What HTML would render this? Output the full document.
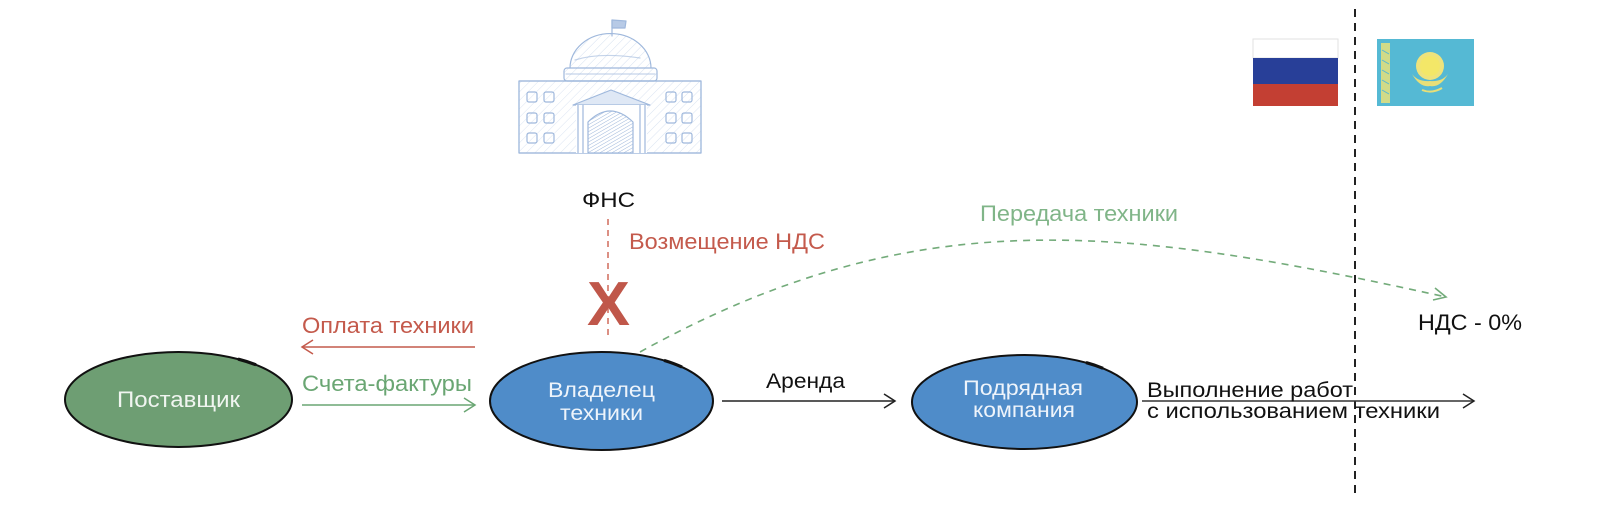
<!DOCTYPE html>
<html>
<head>
<meta charset="utf-8">
<style>
  html,body{margin:0;padding:0;background:#fff;}
  svg{display:block;}
  text{font-family:"Liberation Sans","DejaVu Sans",sans-serif;}
</style>
</head>
<body>
<svg width="1600" height="515" viewBox="0 0 1600 515" xmlns="http://www.w3.org/2000/svg">
  <defs>
    <pattern id="hatch" width="6" height="6" patternUnits="userSpaceOnUse" patternTransform="rotate(45)">
      <line x1="0" y1="0" x2="0" y2="6" stroke="#a9c0e0" stroke-width="1" opacity="0.5"/>
    </pattern>
    <pattern id="hatch2" width="3" height="3" patternUnits="userSpaceOnUse" patternTransform="rotate(60)">
      <line x1="0" y1="0" x2="0" y2="3" stroke="#9db6da" stroke-width="1"/>
    </pattern>
  </defs>
  <rect width="1600" height="515" fill="#fff"/>

  <!-- Building (ФНС) -->
  <g stroke="#9fb8dc" stroke-width="1.2" fill="none" stroke-linecap="round" stroke-linejoin="round">
    <line x1="612" y1="36" x2="612" y2="20"/>
    <path d="M612,20 L626,21 L625,28 L612,28 Z" fill="#b7cae6"/>
    <path d="M570,68 A40,34 0 0 1 651,68" fill="url(#hatch)"/>
    <path d="M575,60 Q600,52 640,58" opacity="0.6"/>
    <rect x="564" y="68" width="93" height="13" rx="3" fill="url(#hatch)"/>
    <line x1="566" y1="74" x2="655" y2="74" opacity="0.6"/>
    <rect x="519" y="81" width="182" height="72" fill="url(#hatch)" opacity="0.85"/>
    <rect x="519" y="81" width="182" height="72"/>
    <path d="M573,105 L611,90 L650,105 Z" fill="#dfe8f5"/>
    <rect x="576" y="105" width="71" height="48" fill="#ffffff" stroke="none"/>
    <line x1="578" y1="105" x2="578" y2="153"/>
    <line x1="583" y1="105" x2="583" y2="153"/>
    <line x1="640" y1="105" x2="640" y2="153"/>
    <line x1="645" y1="105" x2="645" y2="153"/>
    <path d="M588,153 L588,122 Q610,100 633,122 L633,153 Z" fill="url(#hatch2)"/>
    <rect x="527" y="92" width="10" height="10" rx="2"/>
    <rect x="544" y="92" width="10" height="10" rx="2"/>
    <rect x="527" y="113" width="10" height="10" rx="2"/>
    <rect x="544" y="113" width="10" height="10" rx="2"/>
    <rect x="527" y="133" width="10" height="10" rx="2"/>
    <rect x="544" y="133" width="10" height="10" rx="2"/>
    <rect x="666" y="92" width="10" height="10" rx="2"/>
    <rect x="682" y="92" width="10" height="10" rx="2"/>
    <rect x="666" y="113" width="10" height="10" rx="2"/>
    <rect x="682" y="113" width="10" height="10" rx="2"/>
    <rect x="666" y="133" width="10" height="10" rx="2"/>
    <rect x="682" y="133" width="10" height="10" rx="2"/>
  </g>

  <!-- Flags -->
  <rect x="1253" y="39" width="85" height="19" fill="#ffffff" stroke="#e2e2e2" stroke-width="1"/>
  <rect x="1253" y="58" width="85" height="26" fill="#283f98"/>
  <rect x="1253" y="84" width="85" height="22" fill="#c33f33"/>

  <rect x="1377" y="39" width="97" height="67" fill="#55b9d4"/>
  <rect x="1381" y="43" width="9" height="60" fill="#e8e07a" opacity="0.85"/>
  <g stroke="#55b9d4" stroke-width="1" fill="none">
    <path d="M1382,50 L1389,54 M1382,60 L1389,64 M1382,70 L1389,74 M1382,80 L1389,84 M1382,90 L1389,94"/>
  </g>
  <circle cx="1430" cy="66" r="14" fill="#eee37c"/>
  <circle cx="1430" cy="66" r="10" fill="#f3e768"/>
  <path d="M1412,74 Q1420,88 1430,86 Q1440,88 1448,74 Q1442,82 1430,81 Q1418,82 1412,74 Z" fill="#e8df78"/>
  <path d="M1422,90 Q1432,94 1442,88" stroke="#e8df78" stroke-width="2" fill="none"/>

  <!-- Black dashed border line -->
  <line x1="1355" y1="9" x2="1355" y2="493" stroke="#222" stroke-width="2" stroke-dasharray="8,6"/>

  <!-- ФНС -->
  <text x="582" y="207" font-size="21" fill="#111" textLength="53" lengthAdjust="spacingAndGlyphs">ФНС</text>

  <!-- Red dashed vertical -->
  <line x1="608" y1="219" x2="608" y2="340" stroke="#d06b5c" stroke-width="1.5" stroke-dasharray="6,5"/>
  <text x="629" y="249" font-size="22" fill="#c45a4c" textLength="196" lengthAdjust="spacingAndGlyphs">Возмещение НДС</text>
  <text x="587" y="325" font-size="62" font-weight="bold" fill="#c0574a" textLength="43" lengthAdjust="spacingAndGlyphs">X</text>

  <!-- Green dashed curve -->
  <path d="M640,352 C915,200 1120,225 1446,297" stroke="#73ab7a" stroke-width="1.6" fill="none" stroke-dasharray="7,6"/>
  <path d="M1435,288 L1446,297 L1433,300" stroke="#73ab7a" stroke-width="1.6" fill="none"/>
  <text x="980" y="221" font-size="22" fill="#80b588" textLength="198" lengthAdjust="spacingAndGlyphs">Передача техники</text>

  <text x="1418" y="330" font-size="22" fill="#111" textLength="104" lengthAdjust="spacingAndGlyphs">НДС - 0%</text>

  <!-- Ellipses -->
  <ellipse cx="178.5" cy="399.5" rx="113.5" ry="47.5" fill="#6e9e73" stroke="#111" stroke-width="2"/>
  <path d="M238,359.05 A113.5,47.5 0 0 1 256,364.8" stroke="#111" stroke-width="3.2" fill="none"/>
  <text x="117" y="407" font-size="22" fill="#f0f5f0" textLength="123" lengthAdjust="spacingAndGlyphs">Поставщик</text>

  <ellipse cx="601.5" cy="401" rx="111.5" ry="49" fill="#4f8cc9" stroke="#111" stroke-width="2"/>
  <path d="M664,360.4 A111.5,49 0 0 1 682,367.1" stroke="#111" stroke-width="3.2" fill="none"/>
  <text x="548" y="397" font-size="21" fill="#eef4fb" textLength="107" lengthAdjust="spacingAndGlyphs">Владелец</text>
  <text x="560" y="420" font-size="21" fill="#eef4fb" textLength="83" lengthAdjust="spacingAndGlyphs">техники</text>

  <ellipse cx="1024.5" cy="402" rx="112.5" ry="47" fill="#4f8cc9" stroke="#111" stroke-width="2"/>
  <path d="M1086,362.6 A112.5,47 0 0 1 1103,368.3" stroke="#111" stroke-width="3.2" fill="none"/>
  <text x="963" y="395" font-size="21" fill="#eef4fb" textLength="120" lengthAdjust="spacingAndGlyphs">Подрядная</text>
  <text x="973" y="417" font-size="21" fill="#eef4fb" textLength="102" lengthAdjust="spacingAndGlyphs">компания</text>

  <!-- Оплата техники (red, left arrow) -->
  <text x="302" y="333" font-size="22" fill="#c45a4c" textLength="172" lengthAdjust="spacingAndGlyphs">Оплата техники</text>
  <line x1="302" y1="347" x2="475" y2="347" stroke="#c45a4c" stroke-width="1.5"/>
  <path d="M313,340 L302,347 L313,354" stroke="#c45a4c" stroke-width="1.5" fill="none"/>

  <!-- Счета-фактуры (green, right arrow) -->
  <text x="302" y="391" font-size="22" fill="#6aa673" textLength="170" lengthAdjust="spacingAndGlyphs">Счета-фактуры</text>
  <line x1="302" y1="405" x2="475" y2="405" stroke="#6aa673" stroke-width="1.5"/>
  <path d="M464,398 L475,405 L464,412" stroke="#6aa673" stroke-width="1.5" fill="none"/>

  <!-- Аренда -->
  <text x="766" y="388" font-size="21" fill="#111" textLength="79" lengthAdjust="spacingAndGlyphs">Аренда</text>
  <line x1="722" y1="401" x2="895" y2="401" stroke="#222" stroke-width="1.5"/>
  <path d="M884,394 L895,401 L884,408" stroke="#222" stroke-width="1.5" fill="none"/>

  <!-- Выполнение работ -->
  <line x1="1142" y1="401" x2="1474" y2="401" stroke="#333" stroke-width="1.5"/>
  <path d="M1463,394 L1474,401 L1463,408" stroke="#222" stroke-width="1.5" fill="none"/>
  <text x="1147" y="397" font-size="21" fill="#111" textLength="206" lengthAdjust="spacingAndGlyphs">Выполнение работ</text>
  <text x="1147" y="418" font-size="21" fill="#111" textLength="293" lengthAdjust="spacingAndGlyphs">с использованием техники</text>
</svg>
</body>
</html>
